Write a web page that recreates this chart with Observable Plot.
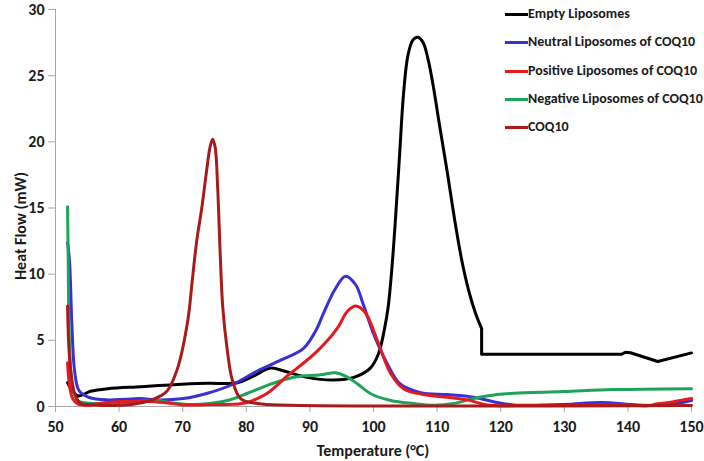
<!DOCTYPE html>
<html>
<head>
<meta charset="utf-8">
<script src="https://cdn.jsdelivr.net/npm/d3@7"></script>
<script src="https://cdn.jsdelivr.net/npm/@observablehq/plot@0.6"></script>
<style>
  html, body { margin: 0; padding: 0; background: #fff; }
  #wrap { position: relative; width: 704px; height: 461px; font-family: Carlito, Lato, sans-serif; font-weight: bold; color: #1a1a1a; }
  #chart svg { display: block; }
  .legend { position: absolute; left: 505px; top: 0; }
  .legend .row { position: absolute; left: 0; height: 20px; white-space: nowrap; font-size: 14px; line-height: 20px; }
  .legend .sw { position: absolute; left: 0; top: 8.5px; width: 23px; height: 3px; }
  .legend .tx { position: absolute; left: 23px; top: 0; }
  .xtitle { position: absolute; left: 373px; top: 450px; transform: translate(-50%, -50%); font-size: 16px; white-space: nowrap; }
  .ytitle { position: absolute; left: 20px; top: 226px; transform: translate(-50%, -50%) rotate(-90deg); font-size: 16px; white-space: nowrap; }
</style>
</head>
<body>
<div id="wrap">
  <div id="chart"></div>
  <div class="legend" id="legend"></div>
  <div class="xtitle">Temperature (°C)</div>
  <div class="ytitle">Heat Flow (mW)</div>
</div>
<script>
// ---- data (temperature °C, heat flow mW) ----
const seriesNames = ["Empty Liposomes", "Neutral Liposomes of COQ10", "Positive Liposomes of COQ10", "Negative Liposomes of COQ10", "COQ10"];
const seriesColors = ["#000000", "#3a2fd2", "#e5191e", "#1ea35a", "#a81b1b"];
const xTicks = [50, 60, 70, 80, 90, 100, 110, 120, 130, 140, 150];
const yTicks = [0, 5, 10, 15, 20, 25, 30];

const emptyPeak = [
  [51.9,1.8],[52.6,1.2],[53.6,0.8],[55.5,1.15],[58.2,1.35],[63.4,1.5],[68.6,1.65],[73.9,1.75],[78.6,1.8],
  [81.1,2.3],[83.8,2.9],[85.8,2.7],[89.6,2.2],[93.7,2.0],[96.9,2.2],[99.5,2.9],[100.8,4.0],[101.7,5.8],
  [102.3,7.5],[102.9,10.5],[103.5,14.5],[104.1,19],[104.7,23.5],[105.4,26.5],[106.2,27.7],[107,27.9],
  [107.8,27.5],[108.6,26.2],[109.4,24.2],[110.3,21.5],[111.6,17.7],[112.8,14.0],[113.9,11.0],
  [115.0,8.7],[116.0,7.1],[116.9,6.0],[117,5.9]
];
const emptyTail = [
  [117,5.9],[117,3.95],[139.0,3.95],[139.6,4.1],[140.4,4.06],[144.7,3.4],[150,4.05]
];
const neutral = [
  [51.9,12.4],[52.2,11],[52.6,5.9],[53.0,2.7],[53.7,1.2],[55.3,0.68],[58.2,0.5],[61,0.55],[63.4,0.6],
  [66,0.5],[70.1,0.6],[73.9,1.0],[78,1.7],[81.8,2.7],[85.4,3.5],[89,4.4],[91.0,5.8],[92.1,7.0],[94,8.9],
  [95.6,9.85],[97.2,9.2],[98.4,7.7],[100,5.5],[102.2,3.2],[104.2,1.7],[107.4,1.05],[111.6,0.9],[115.7,0.7],
  [119.5,0.3],[122,0.12],[130,0.15],[135.7,0.3],[141.5,0.12],[146,0.1],[150,0.45]
];
const positive = [
  [51.9,3.3],[52.2,1.6],[52.7,0.6],[53.5,0.2],[55,0.1],[58,0.3],[63,0.4],[67,0.3],[70,0.12],[75,0.15],
  [79.1,0.2],[81,0.45],[83.3,1.0],[86.9,2.5],[88,2.9],[91.2,4.2],[94.3,5.9],[95.9,7.2],[97.2,7.6],[98.7,7.1],
  [100.6,5.0],[102.7,2.5],[104.7,1.35],[107.9,0.9],[111.6,0.7],[114.8,0.5],[117.9,0.12],[125,0.08],
  [140,0.12],[143,0.05],[144.7,0.2],[147,0.35],[150,0.6]
];
const negative = [
  [51.9,15.1],[52.0,11],[52.2,4.7],[52.7,1.4],[53.5,0.45],[55.5,0.25],[60.7,0.3],[66,0.45],[68,0.3],
  [71.2,0.15],[73.9,0.2],[77,0.45],[80.2,1.0],[83.3,1.6],[86.5,2.1],[88,2.25],[91.7,2.4],[94,2.55],
  [95.6,2.3],[97.5,1.7],[99.5,0.98],[102.7,0.45],[106.3,0.22],[109.4,0.1],[112.6,0.22],[115.7,0.6],
  [119.5,0.9],[122,1.0],[129.9,1.13],[137.7,1.28],[150,1.35]
];
const coq10 = [
  [51.9,7.6],[52.1,4.5],[52.4,2.7],[53.0,1.0],[53.9,0.25],[56,0.12],[62,0.15],[64.9,0.45],[66.5,0.8],
  [67.6,1.2],[69.2,2.9],[70.8,6.5],[71.5,9.5],[72.2,12.5],[73.0,15],[73.7,17.6],[74.3,19.6],[74.7,20.2],
  [75.1,19.6],[75.5,16.5],[75.9,11.5],[76.3,7.5],[77.0,4.3],[77.8,2.0],[79.1,0.6],[81.8,0.22],[86.9,0.1],[150,0.08]
];

const line = (data, color, curve) => Plot.line(data, {x: d => d[0], y: d => d[1], stroke: color, strokeWidth: 3, curve, strokeLinejoin: "round"});

const chart = Plot.plot({
  width: 704, height: 461,
  marginLeft: 55, marginRight: 13, marginTop: 9, marginBottom: 55,
  x: {domain: [50, 150]},
  y: {domain: [0, 30]},
  style: {fontFamily: "Carlito, Lato, sans-serif", fontSize: "16px", fontWeight: "bold", color: "#1a1a1a", background: "#fff"},
  marks: [
    Plot.axisX({ticks: xTicks, tickSize: 6, tickPadding: 8, stroke: "#a6a6a6", fill: "#1a1a1a", label: null, tickFormat: d => String(d)}),
    Plot.axisY({ticks: yTicks, tickSize: 7, tickPadding: 4, stroke: "#a6a6a6", fill: "#1a1a1a", label: null, tickFormat: d => String(d)}),
    Plot.ruleX([50], {stroke: "#a6a6a6", strokeWidth: 1}),
    Plot.ruleY([0], {stroke: "#a6a6a6", strokeWidth: 1}),
    line(emptyPeak, seriesColors[0], "catmull-rom"),
    line(emptyTail, seriesColors[0], "linear"),
    line(neutral, seriesColors[1], "catmull-rom"),
    line(negative, seriesColors[3], "catmull-rom"),
    line(positive, seriesColors[2], "catmull-rom"),
    line(coq10, seriesColors[4], "catmull-rom")
  ]
});
document.getElementById("chart").appendChild(chart);

const legend = document.getElementById("legend");
const rowTops = [4, 32, 61, 89, 117];
seriesNames.forEach((name, i) => {
  const row = document.createElement("div");
  row.className = "row";
  row.style.top = rowTops[i] + "px";
  row.innerHTML = `<span class="sw" style="background:${seriesColors[i]}"></span><span class="tx"></span>`;
  row.querySelector(".tx").textContent = name;
  legend.appendChild(row);
});
</script>
</body>
</html>
